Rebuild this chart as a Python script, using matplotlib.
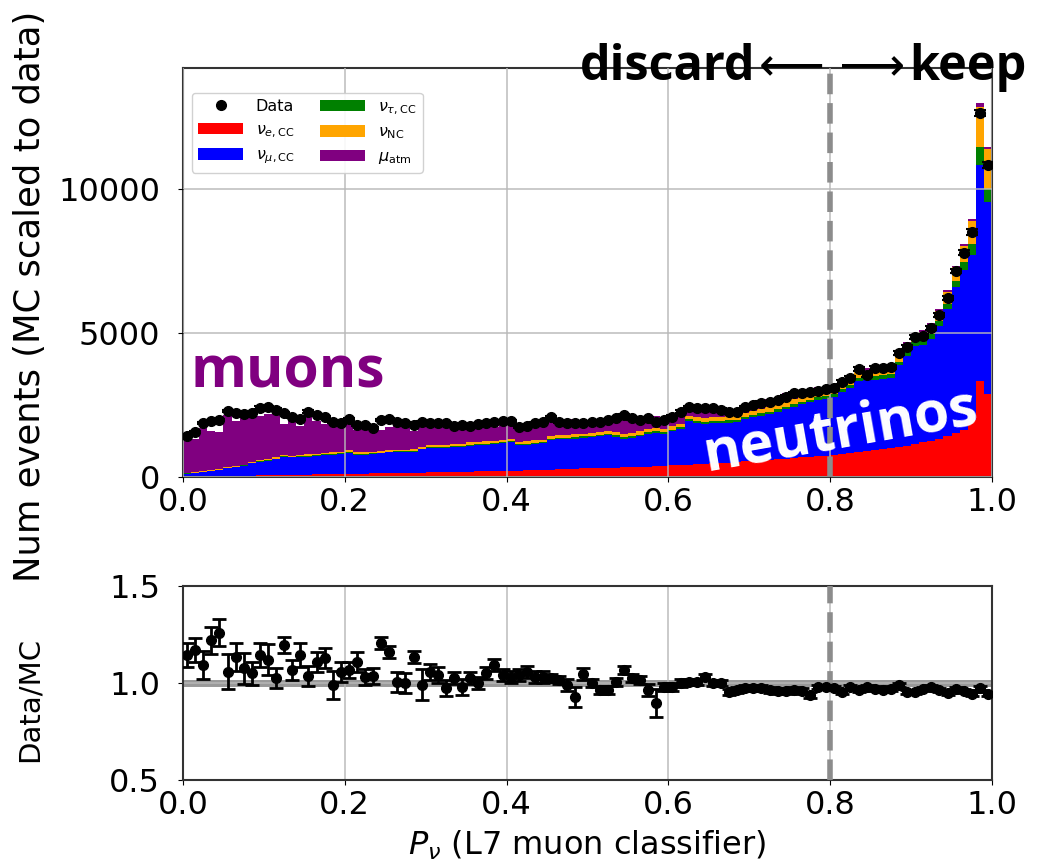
import numpy as np
import matplotlib
matplotlib.use("Agg")
import matplotlib.pyplot as plt
from matplotlib.patches import Patch
from matplotlib.lines import Line2D

#========== DATA ==========#

# 100 bins of the classifier score between 0 and 1
bin_lo = 0.0
bin_hi = 1.0
n_bins = 100

nu_e_cc = [
    10, 15, 20, 25, 30, 35, 40, 45, 50, 55,
    60, 65, 70, 75, 80, 85, 90, 95, 100, 105,
    110, 115, 120, 125, 130, 135, 140, 145, 150, 155,
    160, 165, 170, 175, 180, 185, 190, 195, 200, 205,
    215, 220, 225, 235, 245, 255, 265, 275, 285, 300,
    305, 310, 315, 320, 330, 340, 350, 360, 370, 380,
    400, 410, 430, 440, 460, 470, 490, 500, 520, 540,
    560, 580, 600, 620, 640, 660, 680, 700, 720, 740,
    770, 800, 830, 860, 890, 920, 960, 1000, 1040, 1090,
    1140, 1200, 1260, 1330, 1420, 1520, 1640, 1980, 3330, 2880]

nu_mu_cc = [
    110, 135, 155, 190, 220, 260, 300, 345, 425, 480,
    505, 560, 630, 605, 620, 625, 640, 665, 675, 700,
    735, 660, 655, 670, 685, 720, 720, 710, 715, 800,
    840, 845, 845, 860, 870, 905, 920, 925, 940, 975,
    985, 880, 890, 905, 925, 1030, 1040, 1045, 1050, 1055,
    1075, 1110, 1130, 1075, 990, 1020, 1060, 1130, 1150, 1125,
    1185, 1245, 1505, 1450, 1395, 1400, 1390, 1390, 1400, 1475,
    1510, 1545, 1590, 1640, 1715, 1785, 1840, 1890, 1945, 1975,
    2000, 2150, 2265, 2470, 2465, 2460, 2450, 2435, 2830, 3115,
    3400, 3390, 3540, 3895, 4410, 5080, 5560, 5720, 7490, 6680]

nu_tau_cc = [
    5, 5, 5, 5, 5, 10, 10, 10, 10, 10,
    15, 15, 15, 15, 15, 20, 20, 20, 20, 20,
    20, 20, 25, 25, 25, 25, 25, 30, 30, 30,
    30, 30, 35, 35, 35, 35, 35, 40, 40, 40,
    40, 40, 40, 45, 45, 45, 45, 50, 50, 50,
    50, 50, 55, 55, 55, 55, 60, 60, 60, 60,
    60, 65, 65, 65, 70, 70, 70, 75, 75, 75,
    80, 80, 80, 85, 85, 90, 90, 95, 95, 100,
    100, 105, 105, 110, 110, 115, 120, 125, 130, 135,
    140, 150, 160, 175, 190, 220, 260, 400, 630, 450]

nu_nc = [
    15, 15, 20, 20, 25, 25, 30, 30, 35, 35,
    40, 40, 45, 45, 45, 50, 50, 50, 55, 55,
    55, 55, 60, 60, 60, 60, 65, 65, 65, 65,
    70, 70, 70, 70, 75, 75, 75, 80, 80, 80,
    80, 80, 85, 85, 85, 90, 90, 90, 95, 95,
    95, 100, 100, 100, 105, 105, 110, 110, 110, 115,
    115, 120, 120, 125, 125, 130, 130, 135, 135, 140,
    140, 145, 150, 155, 160, 165, 170, 175, 180, 185,
    190, 195, 200, 210, 215, 225, 230, 240, 250, 260,
    270, 290, 320, 360, 400, 460, 560, 800, 1400, 1390]

mu_atm = [
    1100, 1160, 1515, 1355, 1290, 1835, 1580, 1605, 1595, 1520,
    1550, 1590, 1095, 1210, 1000, 1400, 1140, 1010, 1080, 895,
    965, 775, 885, 760, 740, 795, 950, 925, 625, 880,
    675, 690, 805, 585, 680, 525, 620, 545, 490, 570,
    565, 450, 435, 550, 555, 605, 440, 435, 540, 300,
    385, 420, 455, 480, 535, 470, 370, 455, 440, 340,
    375, 420, 300, 290, 260, 310, 250, 270, 215, 265,
    275, 290, 275, 280, 300, 310, 240, 200, 170, 150,
    130, 115, 100, 95, 90, 85, 80, 75, 70, 70,
    65, 65, 60, 60, 60, 60, 60, 70, 140, 60]

data_counts = [
    1420, 1560, 1875, 1945, 1980, 2290, 2220, 2190, 2220, 2400,
    2430, 2330, 2220, 2080, 2010, 2260, 2150, 2080, 1910, 1875,
    2010, 1800, 1800, 1700, 1980, 2010, 1910, 1875, 1800, 1910,
    1875, 1875, 1875, 1770, 1800, 1770, 1840, 1875, 1910, 1945,
    1945, 1740, 1770, 1875, 1910, 2080, 1910, 1875, 1875, 1875,
    1910, 1920, 1980, 2040, 2150, 2040, 1980, 2040, 1910, 1980,
    2090, 2260, 2430, 2380, 2380, 2380, 2330, 2260, 2260, 2430,
    2500, 2570, 2600, 2670, 2780, 2900, 2920, 2950, 2980, 3040,
    3090, 3300, 3450, 3750, 3540, 3780, 3780, 3820, 4300, 4510,
    4860, 4900, 5170, 5620, 6220, 7150, 7780, 8510, 12640, 10830]

data_err = [
    38, 40, 43, 44, 44, 48, 47, 47, 47, 49,
    49, 48, 47, 46, 45, 48, 46, 46, 44, 43,
    45, 42, 42, 41, 44, 45, 44, 43, 42, 44,
    43, 43, 43, 42, 42, 42, 43, 43, 44, 44,
    44, 42, 42, 43, 44, 46, 44, 43, 43, 43,
    44, 44, 44, 45, 46, 45, 44, 45, 44, 44,
    46, 48, 49, 49, 49, 49, 48, 48, 48, 49,
    50, 51, 51, 52, 53, 54, 54, 54, 55, 55,
    56, 57, 59, 61, 60, 61, 61, 62, 66, 67,
    70, 70, 72, 75, 79, 85, 88, 92, 112, 104]

ratio = [
    1.144, 1.17, 1.093, 1.22, 1.26, 1.057, 1.134, 1.077, 1.05, 1.144,
    1.12, 1.026, 1.196, 1.067, 1.144, 1.036, 1.108, 1.129, 0.99, 1.057,
    1.067, 1.108, 1.031, 1.036, 1.206, 1.16, 1.005, 1.0, 1.134, 0.99,
    1.057, 1.041, 0.974, 1.026, 0.979, 1.026, 1.0, 1.05, 1.093, 1.041,
    1.031, 1.041, 1.057, 1.031, 1.031, 1.026, 1.015, 0.99, 0.928, 1.045,
    1.0, 0.964, 0.964, 1.005, 1.067, 1.026, 1.015, 0.964, 0.897, 0.979,
    0.979, 1.0, 1.005, 1.005, 1.031, 1.0, 1.0, 0.954, 0.964, 0.974,
    0.974, 0.974, 0.964, 0.96, 0.958, 0.964, 0.96, 0.938, 0.979, 0.979,
    0.974, 0.954, 0.979, 0.964, 0.979, 0.97, 0.964, 0.97, 0.99, 0.954,
    0.954, 0.97, 0.979, 0.964, 0.948, 0.97, 0.96, 0.945, 0.973, 0.945]

ratio_err = [
    0.06, 0.06, 0.07, 0.07, 0.07, 0.09, 0.07, 0.08, 0.06, 0.06,
    0.08, 0.05, 0.04, 0.05, 0.06, 0.05, 0.05, 0.05, 0.07, 0.05,
    0.04, 0.05, 0.04, 0.04, 0.03, 0.03, 0.05, 0.05, 0.03, 0.08,
    0.04, 0.04, 0.04, 0.03, 0.04, 0.03, 0.03, 0.03, 0.03, 0.03,
    0.03, 0.03, 0.03, 0.03, 0.03, 0.02, 0.02, 0.03, 0.05, 0.03,
    0.02, 0.02, 0.02, 0.02, 0.02, 0.02, 0.02, 0.03, 0.07, 0.02,
    0.02, 0.02, 0.015, 0.015, 0.015, 0.015, 0.015, 0.015, 0.015, 0.015,
    0.015, 0.015, 0.015, 0.015, 0.015, 0.015, 0.015, 0.015, 0.012, 0.012,
    0.012, 0.012, 0.012, 0.012, 0.012, 0.012, 0.012, 0.012, 0.012, 0.012,
    0.01, 0.01, 0.01, 0.01, 0.01, 0.01, 0.01, 0.01, 0.01, 0.01]

components = [nu_e_cc, nu_mu_cc, nu_tau_cc, nu_nc, mu_atm]
comp_colors = ["red", "blue", "green", "orange", "purple"]
comp_labels = [r"$\nu_{e,\mathrm{CC}}$", r"$\nu_{\mu,\mathrm{CC}}$",
               r"$\nu_{\tau,\mathrm{CC}}$", r"$\nu_{\mathrm{NC}}$",
               r"$\mu_{\mathrm{atm}}$"]
cut_value = 0.8

#========== PLOT ==========#

edges = np.linspace(bin_lo, bin_hi, n_bins + 1)
centers = 0.5 * (edges[:-1] + edges[1:])

fig = plt.figure(figsize=(10.37, 8.68), dpi=100)
ax_top = fig.add_axes([0.1765, 0.4505, 0.7801, 0.4712])
ax_bot = fig.add_axes([0.1765, 0.1014, 0.7801, 0.2235])

TICK_FS = 23
grid_kw = dict(color="#b8b8b8", linewidth=1.3, alpha=0.8)

# stacked MC histogram
ax_top.hist([centers] * len(components), bins=edges, weights=components,
            stacked=True, histtype="stepfilled", color=comp_colors,
            linewidth=0, zorder=1)
ax_top.errorbar(centers, data_counts, yerr=data_err, fmt="o", color="black",
                markersize=7, capsize=4, elinewidth=1.5, capthick=1.5,
                zorder=5)
ax_top.axvline(cut_value, color="#8c8c8c", linestyle="--", linewidth=4,
               zorder=4)
ax_top.set_xlim(bin_lo, bin_hi)
ax_top.set_ylim(0, 14200)
ax_top.set_yticks([0, 5000, 10000])
ax_top.set_xticks(np.arange(0, 1.01, 0.2))
ax_top.grid(True, zorder=3, **grid_kw)
ax_top.set_axisbelow(False)
ax_top.tick_params(labelsize=TICK_FS)
ax_top.tick_params(axis="y", pad=13)

handles = [Line2D([], [], marker="o", color="black", linestyle="none",
                  markersize=7)]
handles += [Patch(facecolor=c) for c in comp_colors]
labels = ["Data"] + comp_labels
ax_top.legend(handles, labels, loc="upper left", ncol=2, fontsize=11.5,
              bbox_to_anchor=(0.011, 0.94), borderaxespad=0,
              handlelength=2.8, columnspacing=1.6, framealpha=0.9)

# ratio panel
ax_bot.axhline(1.0, color="#999999", linewidth=5, zorder=1)
ax_bot.errorbar(centers, ratio, yerr=ratio_err, fmt="o", color="black",
                markersize=7, capsize=5, elinewidth=2, capthick=2, zorder=5)
ax_bot.axvline(cut_value, color="#8c8c8c", linestyle="--", linewidth=4,
               zorder=4)
ax_bot.set_xlim(bin_lo, bin_hi)
ax_bot.set_ylim(0.5, 1.5)
ax_bot.set_yticks([0.5, 1.0, 1.5])
ax_bot.set_xticks(np.arange(0, 1.01, 0.2))
ax_bot.grid(True, zorder=0, **grid_kw)
ax_bot.tick_params(labelsize=TICK_FS)
ax_bot.tick_params(axis="y", pad=13)
ax_bot.set_xlabel(r"$P_\nu$ (L7 muon classifier)", fontsize=TICK_FS,
                  labelpad=6)

for ax in (ax_top, ax_bot):
    for spine in ax.spines.values():
        spine.set_color("#333333")
        spine.set_linewidth(1.5)

fig.text(0.029, 0.658, "Num events (MC scaled to data)", rotation=90,
         ha="center", va="center", fontsize=25.5)
fig.text(0.029, 0.194, "Data/MC", rotation=90,
         ha="center", va="center", fontsize=21)

# annotations: bold words with thin arrows between them
ann_font = ["Open Sans", "DejaVu Sans"]
fig.text(0.559, 0.908, "discard", family=ann_font, fontweight="bold",
         fontsize=35, ha="left", va="baseline")
fig.text(0.802, 0.908, "\u27f5 \u27f6", family="DejaVu Sans",
         fontsize=33, ha="center", va="baseline")
fig.text(0.990, 0.908, "keep", family=ann_font, fontweight="bold",
         fontsize=35, ha="right", va="baseline")
ax_top.text(0.009, 0.218, "muons", transform=ax_top.transAxes,
            family=ann_font, fontweight="bold", fontsize=41,
            color="purple", ha="left", va="baseline")
ax_top.text(0.813, 0.11, "neutrinos", transform=ax_top.transAxes,
            family=ann_font, fontweight="bold", fontsize=41,
            color="white", ha="center", va="center", rotation=10,
            rotation_mode="anchor", zorder=6)

fig.savefig("out.png", dpi=100)
